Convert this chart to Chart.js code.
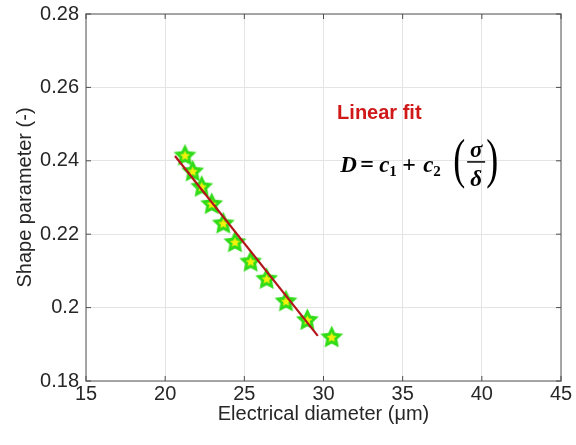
<!DOCTYPE html>
<html lang="en">

<head>
    <meta charset="UTF-8">
    <title>Shape parameter vs electrical diameter</title>
    <script src="https://cdn.jsdelivr.net/npm/chart.js@4/dist/chart.umd.min.js"></script>
    <style>
        html, body { margin: 0; padding: 0; background: #ffffff; }
        #wrap { width: 576px; height: 445px; }
    </style>
</head>

<body>
    <div id="wrap"><canvas id="canvas"></canvas></div>
</body>

<script>
    // measured points (electrical diameter in um, shape parameter)
    const diameters = [21.25, 21.74, 22.31, 22.94, 23.67, 24.41, 25.40, 26.41, 27.63, 28.98, 30.52];
    const shapeParams = [0.2416, 0.2373, 0.2331, 0.2284, 0.2231, 0.2180, 0.2127, 0.2080, 0.2019, 0.1968, 0.1921];

    // linear fit end points
    const fitX = [20.62, 29.64];
    const fitY = [0.2413, 0.1923];

    const xTicks = [15, 20, 25, 30, 35, 40, 45];
    const yTicks = [0.18, 0.2, 0.22, 0.24, 0.26, 0.28];
    const yTickLabels = ["0.18", "0.2", "0.22", "0.24", "0.26", "0.28"];

    const textColor = "#262626";
    const sansFont = "'Liberation Sans', Arial, Helvetica, sans-serif";
    const serifFont = "'Liberation Serif', 'Times New Roman', serif";

    function makeStar(size) {
        const c = document.createElement("canvas");
        c.width = size;
        c.height = size;
        const g = c.getContext("2d");

        function starPath(cx, cy, rOut, rIn) {
            g.beginPath();
            for (let i = 0; i < 10; i++) {
                const r = i % 2 === 0 ? rOut : rIn;
                const a = -Math.PI / 2 + i * Math.PI / 5;
                const px = cx + r * Math.cos(a);
                const py = cy + r * Math.sin(a);
                if (i === 0) g.moveTo(px, py); else g.lineTo(px, py);
            }
            g.closePath();
        }

        const mid = size / 2;
        starPath(mid, mid + 1, size / 2 - 0.5, (size / 2) * 0.47);
        g.fillStyle = "#30dc18";
        g.fill();
        starPath(mid, mid + 1, size * 0.21, size * 0.1);
        g.fillStyle = "#f2f20c";
        g.fill();
        return c;
    }

    const starImage = makeStar(25);

    const frame = {
        id: "frame",
        afterDraw(chart) {
            const ctx = chart.ctx;
            const area = chart.chartArea;
            const xs = chart.scales.x;
            const ys = chart.scales.y;
            ctx.save();
            ctx.strokeStyle = "#8a8a8a";
            ctx.lineWidth = 1.5;
            ctx.strokeRect(area.left, area.top, area.right - area.left, area.bottom - area.top);

            // inward ticks like the original axes
            ctx.strokeStyle = "#4d4d4d";
            ctx.lineWidth = 1;
            ctx.beginPath();
            xTicks.forEach((v) => {
                const px = xs.getPixelForValue(v);
                ctx.moveTo(px, area.bottom);
                ctx.lineTo(px, area.bottom - 5);
                ctx.moveTo(px, area.top);
                ctx.lineTo(px, area.top + 5);
            });
            yTicks.forEach((v) => {
                const py = ys.getPixelForValue(v);
                ctx.moveTo(area.left, py);
                ctx.lineTo(area.left + 5, py);
                ctx.moveTo(area.right, py);
                ctx.lineTo(area.right - 5, py);
            });
            ctx.stroke();
            ctx.restore();
        }
    };

    const annotations = {
        id: "annotations",
        afterDatasetsDraw(chart) {
            const ctx = chart.ctx;
            const xs = chart.scales.x;
            const ys = chart.scales.y;
            ctx.save();

            // "Linear fit" label
            ctx.fillStyle = "#d01818";
            ctx.font = "bold 20px " + sansFont;
            ctx.textBaseline = "alphabetic";
            ctx.textAlign = "left";
            ctx.fillText("Linear fit", xs.getPixelForValue(30.86), ys.getPixelForValue(0.2513));

            // equation D = c1 + c2 (sigma / delta)
            ctx.fillStyle = "#000000";
            const x0 = xs.getPixelForValue(31.05);
            const base = ys.getPixelForValue(0.2369);
            const italic = "italic bold 23px " + serifFont;
            const upright = "bold 24px " + serifFont;
            const sub = "bold 15px " + serifFont;

            function piece(text, font, dx, dy) {
                ctx.font = font;
                ctx.fillText(text, x0 + dx, base + dy);
            }

            function paren(text, dx) {
                ctx.save();
                ctx.font = "36px " + serifFont;
                ctx.translate(x0 + dx, base + 5);
                ctx.scale(1, 1.5);
                ctx.fillText(text, 0, 0);
                ctx.restore();
            }

            piece("D", italic, 0, 0);
            piece("=", upright, 20, 0);
            piece("c", italic, 39, 0);
            piece("1", sub, 49, 4);
            piece("+", upright, 62, 0);
            piece("c", italic, 83, 0);
            piece("2", sub, 93, 4);

            paren("(", 113);
            ctx.font = italic;
            ctx.textAlign = "center";
            ctx.fillText("σ", x0 + 136, base - 15);
            ctx.fillText("δ", x0 + 136, base + 14);
            ctx.fillRect(x0 + 127, base - 11, 18, 1.5);
            ctx.textAlign = "left";
            paren(")", 146);

            ctx.restore();
        }
    };

    const canvas = document.getElementById("canvas");

    const chartInstance = new Chart(canvas, {
        type: "scatter",
        data: {
            datasets: [
                {
                    label: "Linear fit",
                    data: fitX.map((v, i) => ({ x: v, y: fitY[i] })),
                    showLine: true,
                    borderColor: "#b3151b",
                    borderWidth: 2.2,
                    pointRadius: 0,
                    order: 0
                },
                {
                    label: "Data",
                    data: diameters.map((v, i) => ({ x: v, y: shapeParams[i] })),
                    pointStyle: starImage,
                    pointRadius: 12,
                    order: 1
                }
            ]
        },
        options: {
            responsive: true,
            maintainAspectRatio: false,
            animation: false,
            layout: { padding: { top: 14, right: 15, left: 0, bottom: 0 } },
            plugins: {
                legend: { display: false },
                tooltip: { enabled: false }
            },
            scales: {
                x: {
                    type: "linear",
                    min: 15,
                    max: 45,
                    afterBuildTicks: (scale) => { scale.ticks = xTicks.map((v) => ({ value: v })); },
                    afterFit: (scale) => {
                        scale.height = 64;
                        scale.paddingLeft = 0;
                        scale.paddingRight = 0;
                    },
                    grid: { color: "#e4e4e4", drawTicks: false },
                    border: { display: false },
                    ticks: {
                        color: textColor,
                        padding: 1,
                        maxRotation: 0,
                        font: { family: sansFont, size: 20 }
                    },
                    title: {
                        display: true,
                        text: "Electrical diameter (μm)",
                        color: textColor,
                        font: { family: sansFont, size: 20 },
                        padding: { top: 0, bottom: 19 }
                    }
                },
                y: {
                    type: "linear",
                    min: 0.18,
                    max: 0.28,
                    afterBuildTicks: (scale) => { scale.ticks = yTicks.map((v) => ({ value: v })); },
                    afterFit: (scale) => {
                        scale.width = 86;
                        scale.paddingTop = 0;
                        scale.paddingBottom = 0;
                    },
                    grid: { color: "#e4e4e4", drawTicks: false },
                    border: { display: false },
                    ticks: {
                        color: textColor,
                        padding: 7,
                        font: { family: sansFont, size: 20 },
                        callback: (value, index) => yTickLabels[index]
                    },
                    title: {
                        display: true,
                        text: "Shape parameter (-)",
                        color: textColor,
                        font: { family: sansFont, size: 20 },
                        padding: { top: 13, bottom: 0 }
                    }
                }
            }
        },
        plugins: [frame, annotations]
    });
</script>

</html>
